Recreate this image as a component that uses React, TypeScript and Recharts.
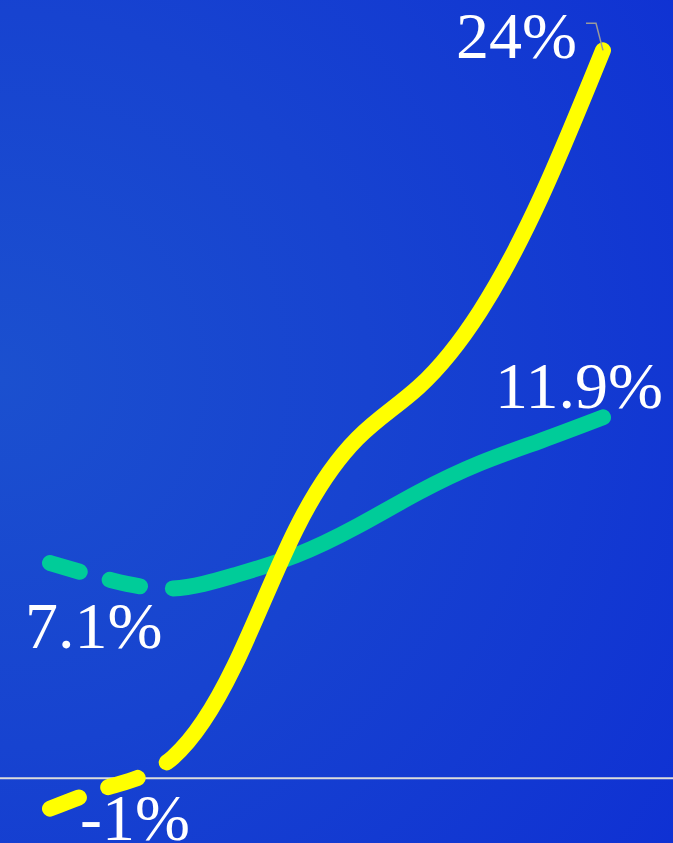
import React from 'react';
import { LineChart, Line, XAxis, YAxis, ReferenceLine } from 'recharts';

// hidden time steps (evenly spaced)
const steps = [0, 1, 2, 3, 4, 5, 6, 7, 8, 9];
const yellowValues = [-1, -0.26, 0.69, 3.7, 8.2, 11.2, 12.9, 15.4, 19.2, 24];
const greenValues = [7.1, 6.53, 6.26, 6.69, 7.35, 8.31, 9.43, 10.39, 11.14, 11.9];
const yellowLabels = ['-1%', '24%'];
const greenLabels = ['7.1%', '11.9%'];

const chartData = steps.map((s, i) => ({
  step: s,
  yellow: yellowValues[i],
  green: greenValues[i],
}));

const labelFont = { fontFamily: '"Liberation Serif", serif', fontSize: 66, fill: '#ffffff' };
const lastIndex = steps.length - 1;

const YellowLabel = (props: any) => {
  const { x, y, index } = props;
  if (index === 0) {
    return (
      <text x={x + 30} y={y + 31} textAnchor="start" {...labelFont}>
        {yellowLabels[0]}
      </text>
    );
  }
  if (index === lastIndex) {
    return (
      <g>
        <polyline
          points={`${x - 17},${y - 27} ${x - 7},${y - 27} ${x},${y}`}
          fill="none"
          stroke="#9a9a9a"
          strokeWidth={1.5}
        />
        <text x={x - 26} y={y + 8} textAnchor="end" {...labelFont}>
          {yellowLabels[1]}
        </text>
      </g>
    );
  }
  return null;
};

const GreenLabel = (props: any) => {
  const { x, y, index } = props;
  if (index === 0) {
    return (
      <text x={x - 25} y={y + 85} textAnchor="start" {...labelFont}>
        {greenLabels[0]}
      </text>
    );
  }
  if (index === lastIndex) {
    return (
      <text x={x + 60} y={y - 9} textAnchor="end" {...labelFont}>
        {greenLabels[1]}
      </text>
    );
  }
  return null;
};

export default function App() {
  return (
    <div
      style={{
        position: 'absolute',
        top: 0,
        left: 0,
        width: 673,
        height: 843,
        background: 'radial-gradient(circle at 0% 45%, #1b50cf 0%, #1743d0 45%, #0f31d3 100%)',
      }}
    >
      <LineChart width={673} height={843} data={chartData} margin={{ top: 20, right: 70, bottom: 4, left: 50 }}>
        <XAxis dataKey="step" type="number" domain={[0, 9]} hide />
        <YAxis type="number" domain={[-2, 25]} hide />
        <ReferenceLine
          segment={[{ x: -1, y: 0 }, { x: 11, y: 0 }]}
          stroke="#dcdcdc"
          strokeWidth={2}
          ifOverflow="visible"
        />
        <Line
          type="natural"
          dataKey="green"
          stroke="#00cc99"
          strokeWidth={16}
          strokeLinecap="round"
          strokeDasharray="31 31 31 33 3000"
          dot={false}
          label={GreenLabel}
          isAnimationActive={false}
        />
        <Line
          type="natural"
          dataKey="yellow"
          stroke="#ffff00"
          strokeWidth={16}
          strokeLinecap="round"
          strokeDasharray="31 31 31 33 3000"
          dot={false}
          label={YellowLabel}
          isAnimationActive={false}
        />
      </LineChart>
    </div>
  );
}
